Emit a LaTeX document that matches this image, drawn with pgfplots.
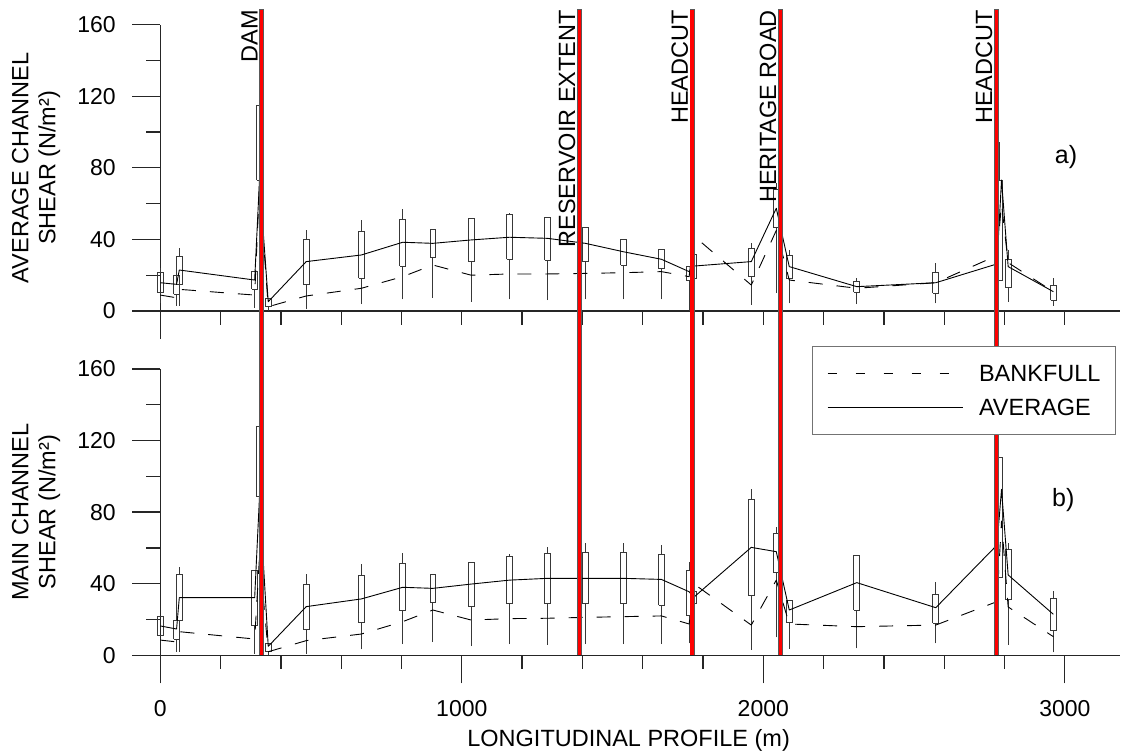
\documentclass[border=0pt]{standalone}
\usepackage{fontspec}
\setmainfont{Liberation Sans}
\usepackage{pgfplots}
\pgfplotsset{compat=1.18}

\definecolor{boxgray}{gray}{0.22}
\definecolor{rulegray}{gray}{0.35}

% one station: position, lower whisker, box bottom, box top, upper whisker
\newcommand{\station}[5]{%
  \pgfmathsetmacro{\xl}{#1-9.5}\pgfmathsetmacro{\xr}{#1+9.5}%
  \addplot[boxgray, line width=0.9pt, forget plot] coordinates {(#1,#2) (#1,#3)};
  \addplot[boxgray, line width=0.9pt, forget plot] coordinates {(#1,#4) (#1,#5)};
  \addplot[boxgray, line width=0.9pt, line join=miter, forget plot]
    coordinates {(\xl,#3) (\xr,#3) (\xr,#4) (\xl,#4) (\xl,#3)};}

% landmark rule: position, top of grey edge, top of red core, bottom
\newcommand{\landmark}[4]{%
  \addplot[rulegray, line width=5pt, forget plot] coordinates {(#1,#2) (#1,#4)};
  \addplot[red, line width=3.1pt, forget plot] coordinates {(#1,#3) (#1,#4)};}

% short distance ticks below the horizontal axis line
\newcommand{\shortticks}[1]{%
  \pgfplotsinvokeforeach{#1}{\draw[black!85, line width=1.3pt] (axis cs:##1,0) -- ++(0pt,-14pt);}}

\newcommand{\annfont}{\fontsize{23.5}{28}\selectfont}

\pgfplotsset{
  panel/.style={
    scale only axis, width=959.7pt, height=286.4pt,
    xmin=0, xmax=3183, ymin=0, ymax=160,
    enlargelimits=false, clip=false,
    axis lines=left, axis line style={-, line width=1.3pt, black!85},
    tick align=outside, major tick length=28pt, minor tick length=14pt,
    tick style={black!85, line width=1.3pt},
    ytick={0,40,80,120,160}, minor y tick num=1,
    tick label style={font=\fontsize{23}{27}\selectfont},
    yticklabel style={xshift=-13pt},
    /pgf/number format/assume math mode=true,
    /pgf/number format/1000 sep={},
    scaled ticks=false,
    label style={font=\fontsize{23.5}{27}\selectfont},
    ylabel style={at={(axis description cs:-0.1295,0.5)}, anchor=center, align=center},
  },
  avgline/.style={black, line width=0.9pt, line join=round},
  bankline/.style={black, line width=0.9pt, line join=round, dash pattern=on 14pt off 14pt},
}

\begin{document}
\begin{tikzpicture}
\path[use as bounding box] (0,0) rectangle (1121pt,-755pt);

% ---------- a) average channel shear ----------
\begin{axis}[panel, at={(160.3pt,-311pt)}, anchor=south west,
  xtick={0}, xticklabels={},
  ylabel={AVERAGE CHANNEL\\SHEAR (N/m²)}]

\shortticks{200,400,600,800,1000,1200,1400,1600,1800,2000,2200,2400,2600,2800,3000}

\station{0}{4.3}{10.2}{21.4}{23.8}
\station{54}{2.8}{9.3}{19.9}{19.9}
\station{63}{2.8}{14.9}{30.7}{35}
\station{313}{1.7}{12.1}{22}{22}
\station{329}{73.2}{73.2}{115}{115}
\station{358}{0}{2.4}{7.1}{7.1}
\station{484}{1}{14.9}{40}{45.3}
\station{667}{3.9}{18.3}{44.7}{50.8}
\station{804}{6.5}{25.1}{51.4}{57}
\station{904}{7.4}{29.8}{45.4}{45.4}
\station{1031}{5.2}{27.9}{51.8}{51.8}
\station{1158}{6.5}{28.9}{54}{55}
\station{1284}{6.1}{28.5}{52.1}{52.1}
\station{1410}{6.5}{27.5}{46.8}{46.8}
\station{1536}{6.5}{25.7}{40.2}{40.2}
\station{1662}{6.5}{23.6}{34.5}{34.5}
\station{1754}{0}{17.3}{25.1}{25.1}
\station{1769}{18.3}{18.3}{31.7}{31.7}
\station{1960}{3.4}{19.2}{35}{37.8}
\station{2043}{10}{46.5}{68}{71.7}
\station{2086}{4.3}{18.3}{30.9}{34}
\station{2310}{3.9}{10.4}{16.4}{18.3}
\station{2572}{4.3}{9.9}{21.4}{26.6}
\station{2782}{17.3}{17.3}{73.2}{94.6}
\station{2812}{5.2}{13.2}{28.9}{34}
\station{2962}{2.8}{6.1}{14.5}{18.3}
\addplot[black, line width=1.6pt, forget plot] coordinates {(331,73.2) (331,93.7)};

\addplot[bankline] coordinates {
  (0,8.9) (54,7.4) (63,12.1) (313,8.9) (329,70) (358,2.4) (484,8.4)
  (667,12.7) (804,19.2) (904,25.7) (1031,20) (1158,20.7) (1284,20.7)
  (1410,21) (1536,21.4) (1662,22) (1754,19.2) (1769,42) (1960,14.5)
  (2043,45) (2086,17.3) (2310,12.7) (2572,15.8) (2775,31) (2790,60)
  (2812,27) (2962,10.8)};
\addplot[avgline] coordinates {
  (0,15.8) (54,14.9) (63,22.9) (313,17.3) (329,73.2) (358,5.2) (484,27.6)
  (667,31.3) (804,38.4) (904,37.8) (1031,39.7) (1158,41.2) (1284,40.6)
  (1410,37.8) (1536,33.1) (1662,28.9) (1754,22) (1769,25.1) (1960,27.6)
  (2043,57.4) (2086,24.8) (2310,13.6) (2572,15.8) (2775,26.3) (2790,73.2)
  (2812,24.8) (2962,10.8)};

\landmark{336.3}{168.7}{168.2}{-10.1}
\landmark{1389.4}{168.7}{168.2}{-10.1}
\landmark{1763.5}{168.7}{168.2}{-10.1}
\landmark{2056}{168.7}{168.2}{-10.1}
\landmark{2772.5}{168.7}{168.2}{-10.1}

\node[rotate=90, anchor=base east, inner sep=0pt, font=\annfont] at (axis cs:322.4,168.2) {DAM};
\node[rotate=90, anchor=base east, inner sep=0pt, font=\annfont] at (axis cs:1375.5,168.2) {RESERVOIR EXTENT};
\node[rotate=90, anchor=base east, inner sep=0pt, font=\annfont] at (axis cs:1749.6,168.2) {HEADCUT};
\node[rotate=90, anchor=base east, inner sep=0pt, font=\annfont] at (axis cs:2042.1,168.2) {HERITAGE ROAD};
\node[rotate=90, anchor=base east, inner sep=0pt, font=\annfont] at (axis cs:2758.6,168.2) {HEADCUT};
\node[font=\fontsize{25}{30}\selectfont] at (axis cs:3004,86) {a)};
\end{axis}

% ---------- b) main channel shear ----------
\begin{axis}[panel, at={(160.3pt,-655.3pt)}, anchor=south west,
  xtick={0,1000,2000,3000},
  xticklabel style={yshift=-14pt},
  ylabel={MAIN CHANNEL\\SHEAR (N/m²)},
  xlabel={LONGITUDINAL PROFILE (m)},
  xlabel style={at={(axis description cs:0.488,-0.3168)}, anchor=base},
  legend cell align=left,
  legend style={at={(axis description cs:0.9958,1.0803)}, anchor=north east,
    draw=black!55, line width=1pt, fill=white,
    inner xsep=15pt, inner ysep=19pt, row sep=17.9pt, column sep=16pt,
    nodes={inner sep=0pt, text depth=0pt},
    font=\fontsize{23.5}{28}\selectfont}]

\shortticks{200,400,600,800,1200,1400,1600,1800,2200,2400,2600,2800}

\station{0}{11.3}{11.3}{21.6}{21.6}
\station{54}{2}{9.1}{19.7}{19.7}
\station{63}{2}{19.7}{44.9}{49.5}
\station{313}{1}{16.5}{47.3}{47.3}
\station{329}{88.6}{88.6}{127.7}{127.7}
\station{358}{0}{2}{6.7}{6.7}
\station{484}{0.9}{14.7}{39.7}{45.2}
\station{667}{3.3}{18.2}{44.5}{50.8}
\station{804}{6.3}{24.9}{51.4}{57}
\station{904}{7.3}{29.6}{45.2}{45.2}
\station{1031}{5.2}{27.5}{51.7}{51.7}
\station{1158}{6.3}{28.7}{55.5}{56.6}
\station{1284}{5.8}{28.7}{57}{60.3}
\station{1410}{6.3}{28.7}{57.5}{62.6}
\station{1536}{6.3}{28.7}{57.5}{63}
\station{1662}{6.3}{28.1}{56.4}{61.9}
\station{1754}{6.7}{22.5}{47.3}{52}
\station{1769}{29}{29}{35.5}{35.5}
\station{1960}{3}{33.3}{87.2}{92.7}
\station{2043}{10}{46.4}{68.1}{71.5}
\station{2086}{3.7}{18.2}{30.9}{30.9}
\station{2310}{3.9}{25.3}{56}{56}
\station{2572}{6.7}{17.9}{34.1}{40.8}
\station{2782}{43.6}{43.6}{110.4}{110.4}
\station{2812}{5.8}{31.3}{59.2}{63}
\station{2962}{1.7}{13.7}{31.8}{35.9}
\addplot[black, line width=1.6pt, forget plot] coordinates {(331,88.6) (331,108)};

\addplot[bankline, legend image code/.code={
    \draw[black, line width=0.9pt, dash pattern=on 9pt off 19pt] (0pt,0pt) -- (135pt,0pt);}]
  coordinates {
  (0,8.5) (54,7.5) (63,13.2) (313,9.1) (329,55) (358,2) (484,8.2)
  (667,11.9) (804,18.8) (904,25.3) (1031,19.7) (1158,20.5) (1284,20.7)
  (1410,21.2) (1536,21.6) (1662,22) (1754,17.5) (1769,40) (1960,16.9)
  (2043,42) (2086,17.5) (2310,16) (2572,16.9) (2775,30) (2790,75)
  (2812,27) (2962,10.4)};
\addlegendentry{BANKFULL}
\addplot[avgline, legend image code/.code={
    \draw[black, line width=0.9pt] (0pt,0pt) -- (135pt,0pt);}]
  coordinates {
  (0,16.4) (54,14.7) (63,32.2) (313,32.2) (329,88.6) (358,5) (484,27.2)
  (667,31.5) (804,38) (904,37.4) (1031,39.8) (1158,42) (1284,43)
  (1410,43) (1536,43) (1662,42.4) (1754,35.5) (1769,32.4) (1960,60.3)
  (2043,57.9) (2086,25.3) (2310,40.6) (2572,26.6) (2775,61.6) (2790,92.7)
  (2812,44.9) (2962,22.9)};
\addlegendentry{AVERAGE}

\landmark{336.3}{182.3}{182.3}{0}
\landmark{1389.4}{182.3}{182.3}{0}
\landmark{1763.5}{182.3}{182.3}{0}
\landmark{2056}{182.3}{182.3}{0}
\landmark{2772.5}{182.3}{182.3}{0}

\node[font=\fontsize{25}{30}\selectfont] at (axis cs:2995,86.8) {b)};
\end{axis}
\end{tikzpicture}
\end{document}
